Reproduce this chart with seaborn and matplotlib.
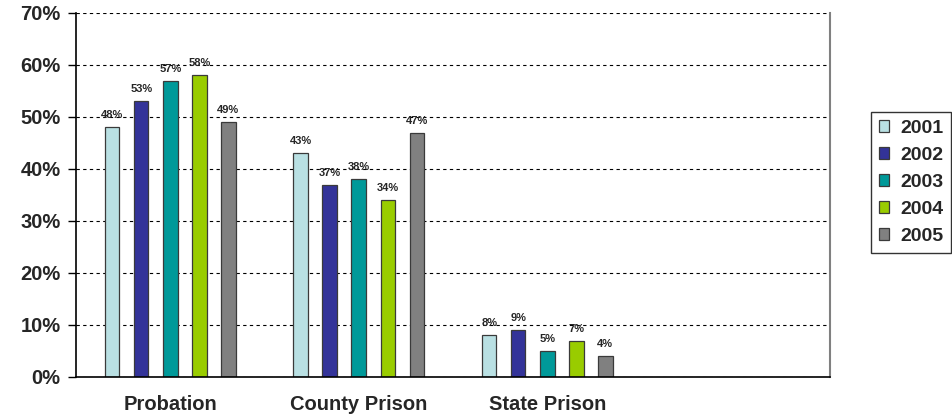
import matplotlib
matplotlib.use("Agg")
import matplotlib.pyplot as plt
from matplotlib.ticker import FixedLocator
import seaborn as sns
import pandas as pd

categories = ["Probation", "County Prison", "State Prison"]
years = ["2001", "2002", "2003", "2004", "2005"]
probation = [48, 53, 57, 58, 49]
county_prison = [43, 37, 38, 34, 47]
state_prison = [8, 9, 5, 7, 4]
colors = ["#B9E0E3", "#333399", "#009999", "#99CC00", "#808080"]
y_ticks = [0, 10, 20, 30, 40, 50, 60, 70]

rows = []
for cat, vals in zip(categories, [probation, county_prison, state_prison]):
    for yr, v in zip(years, vals):
        rows.append({"category": cat, "year": yr, "value": v})
df = pd.DataFrame(rows)

sns.set_style("white")
plt.rcParams["font.family"] = ["Liberation Sans", "DejaVu Sans"]

fig = plt.figure(figsize=(9.52, 4.2), dpi=100)
ax = fig.add_axes([76 / 952, 1 - 377 / 420, (830 - 76) / 952, (377 - 13) / 420])

sns.barplot(data=df, x="category", y="value", hue="year", order=categories,
            hue_order=years, palette=colors, width=0.77, gap=0.5,
            edgecolor="#3a3a3a", linewidth=0.9, saturation=1, ax=ax)

for cont, yr in zip(ax.containers, years):
    labs = [f"{b.get_height():.0f}%" for b in cont]
    ax.bar_label(cont, labels=labs, padding=5, fontsize=8, fontweight="bold")

ax.set_xlim(-0.5, 3.5)
ax.set_ylim(0, 70)
ax.set_yticks(y_ticks)
ax.set_yticklabels([f"{t}%" for t in y_ticks], fontsize=14.5, fontweight="bold")
ax.set_xticks(range(len(categories)))
ax.set_xticklabels(categories, fontsize=14.5, fontweight="bold")
ax.xaxis.set_minor_locator(FixedLocator([-0.5, 0.5, 1.5, 2.5, 3.5]))
ax.tick_params(axis="x", which="major", length=0, pad=13)
ax.tick_params(axis="x", which="minor", length=5, width=1, color="black", direction="out")
ax.tick_params(axis="y", length=6, width=1, color="black", direction="out", left=True, pad=5)
ax.set_xlabel("")
ax.set_ylabel("")

ax.yaxis.grid(True, linestyle=(0, (3, 3)), color="black", linewidth=0.8)
ax.set_axisbelow(True)

for s in ["left", "bottom"]:
    ax.spines[s].set_color("black")
    ax.spines[s].set_linewidth(1.2)
ax.spines["top"].set_visible(False)
ax.spines["right"].set_color("#808080")
ax.spines["right"].set_linewidth(1.5)

handles, labels = ax.get_legend_handles_labels()
ax.legend_.remove()
leg = fig.legend(handles, labels, loc="upper left", bbox_to_anchor=(871 / 952, 1 - 112 / 420),
                 prop={"size": 14, "weight": "bold"}, frameon=True, fancybox=False,
                 edgecolor="black", handlelength=0.55, handleheight=0.55,
                 handletextpad=0.55, labelspacing=0.52, borderpad=0.4, borderaxespad=0)
leg.get_frame().set_linewidth(1)

fig.savefig("out.png", dpi=100)
